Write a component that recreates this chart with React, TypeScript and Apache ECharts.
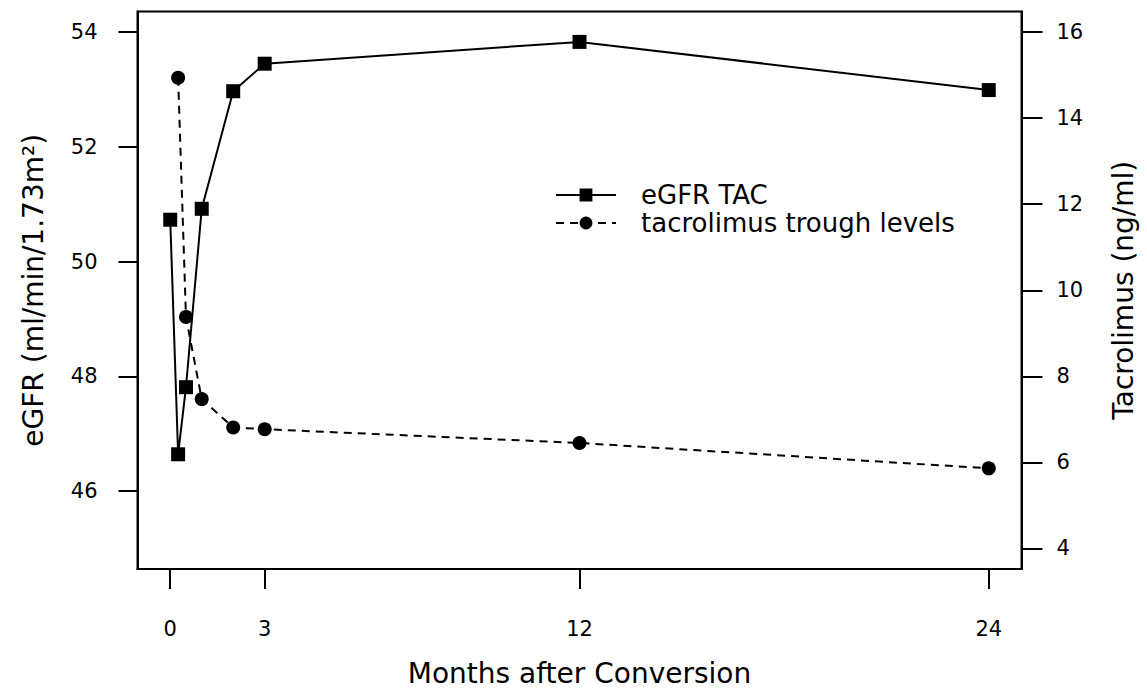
import React, { useEffect, useRef } from "react";
import * as echarts from "echarts";

// x values are weeks after conversion; tick labels show months
const weeks = [0, 1, 2, 4, 8, 12, 52, 104];
const egfrTac = [50.73, 46.64, 47.81, 50.92, 52.97, 53.45, 53.83, 52.99];
const tacWeeks = [1, 2, 4, 8, 12, 52, 104];
const tacTrough = [14.94, 9.38, 7.47, 6.81, 6.77, 6.45, 5.86];
const xTickWeeks = [0, 12, 52, 104];
const xTickLabels = ["0", "3", "12", "24"];
const leftTicks = [46, 48, 50, 52, 54];
const rightTicks = [4, 6, 8, 10, 12, 14, 16];

const FONT = "DejaVu Sans";

export default function App() {
  const ref = useRef<HTMLDivElement>(null);
  useEffect(() => {
    if (!ref.current) return;
    const chart = echarts.init(ref.current, null, { renderer: "svg" });
    const axisText = { color: "#000", fontFamily: FONT, fontSize: 21 };
    const axisLine = { show: true, onZero: false, lineStyle: { color: "#000", width: 2 } };
    chart.setOption({
      animation: false,
      backgroundColor: "#fff",
      grid: {
        left: 137.5,
        right: 125.5,
        top: 11.5,
        bottom: 119,
        containLabel: false,
        outerBoundsMode: "none",
        show: true,
        borderColor: "#000",
        borderWidth: 2,
        backgroundColor: "transparent",
      },
      legend: {
        orient: "vertical",
        left: 555,
        top: 182,
        padding: 0,
        itemWidth: 60,
        itemHeight: 16,
        itemGap: 2,
        textStyle: {
          color: "#000",
          fontFamily: FONT,
          fontSize: 26,
          lineHeight: 26,
          padding: [0, 0, 0, 20],
        },
        data: ["eGFR TAC", "tacrolimus trough levels"],
      },
      xAxis: {
        type: "value",
        min: -4.16,
        max: 108.16,
        name: "Months after Conversion",
        nameLocation: "middle",
        nameGap: 90,
        nameTextStyle: { color: "#000", fontFamily: FONT, fontSize: 28 },
        axisLine,
        axisTick: {
          show: true,
          customValues: xTickWeeks,
          length: 20,
          lineStyle: { color: "#000", width: 2 },
        },
        axisLabel: {
          ...axisText,
          margin: 49,
          customValues: xTickWeeks,
          formatter: (v: number) => {
            const i = xTickWeeks.indexOf(v);
            return i >= 0 ? xTickLabels[i] : "";
          },
        },
        splitLine: { show: false },
      },
      yAxis: [
        {
          type: "value",
          position: "left",
          min: 44.64,
          max: 54.36,
          name: "eGFR (ml/min/1.73m²)",
          nameLocation: "middle",
          nameRotate: 90,
          nameGap: 90,
          nameTextStyle: { color: "#000", fontFamily: FONT, fontSize: 28 },
          axisLine,
          axisTick: {
            show: true,
            inside: false,
            customValues: leftTicks,
            length: 19,
            lineStyle: { color: "#000", width: 2 },
          },
          axisLabel: { ...axisText, margin: 40, customValues: leftTicks },
          splitLine: { show: false },
        },
        {
          type: "value",
          position: "right",
          min: 3.52,
          max: 16.48,
          name: "Tacrolimus (ng/ml)",
          nameLocation: "middle",
          nameRotate: 90,
          nameGap: 88,
          nameTextStyle: { color: "#000", fontFamily: FONT, fontSize: 28 },
          axisLine,
          axisTick: {
            show: true,
            inside: false,
            customValues: rightTicks,
            length: 21,
            lineStyle: { color: "#000", width: 2 },
          },
          axisLabel: { ...axisText, margin: 35, customValues: rightTicks },
          splitLine: { show: false },
        },
      ],
      series: [
        {
          name: "eGFR TAC",
          type: "line",
          yAxisIndex: 0,
          data: weeks.map((w, i) => [w, egfrTac[i]]),
          symbol: "rect",
          symbolSize: 14,
          itemStyle: { color: "#000" },
          lineStyle: { color: "#000", width: 2 },
        },
        {
          name: "tacrolimus trough levels",
          type: "line",
          yAxisIndex: 1,
          data: tacWeeks.map((w, i) => [w, tacTrough[i]]),
          symbol: "circle",
          symbolSize: 14,
          itemStyle: { color: "#000" },
          lineStyle: { color: "#000", width: 2, type: [8, 6] },
        },
      ],
    });
    return () => chart.dispose();
  }, []);
  return (
    <div
      ref={ref}
      style={{ position: "fixed", left: 0, top: 0, width: 1147, height: 688, background: "#fff" }}
    />
  );
}
